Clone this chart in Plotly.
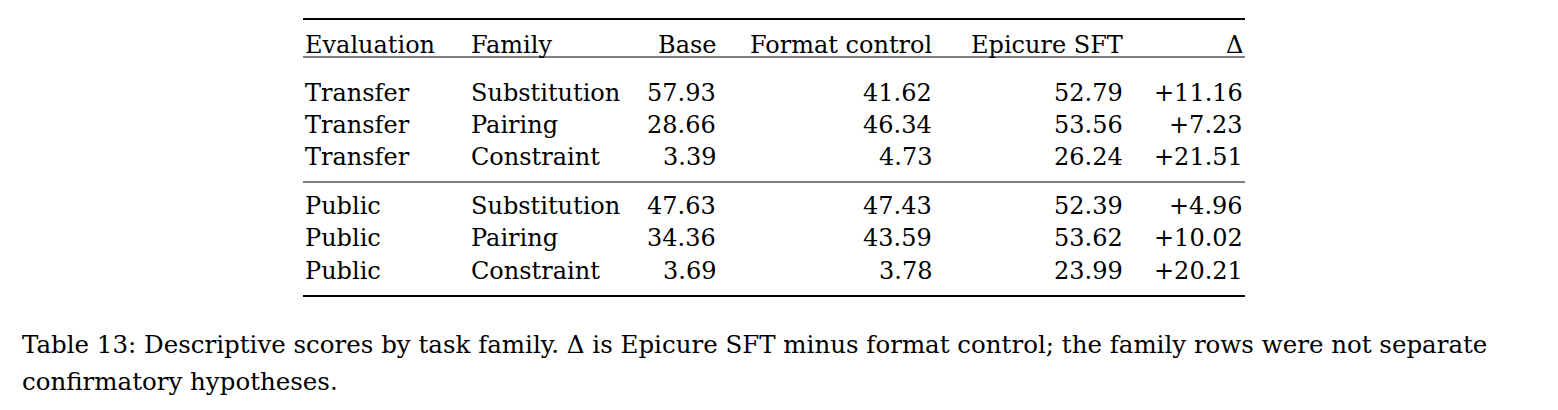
import plotly.graph_objects as go

headers = ["Evaluation", "Family", "Base", "Format control", "Epicure SFT", "Δ"]
evaluation = ["Transfer", "Transfer", "Transfer", "Public", "Public", "Public"]
family = ["Substitution", "Pairing", "Constraint", "Substitution", "Pairing", "Constraint"]
base = ["57.93", "28.66", "3.39", "47.63", "34.36", "3.69"]
format_control = ["41.62", "46.34", "4.73", "47.43", "43.59", "3.78"]
epicure_sft = ["52.79", "53.56", "26.24", "52.39", "53.62", "23.99"]
delta = ["+11.16", "+7.23", "+21.51", "+4.96", "+10.02", "+20.21"]
caption = ["Table 13: Descriptive scores by task family. Δ is Epicure SFT minus format control; the family rows were not separate",
           "confirmatory hypotheses."]

FONT = dict(family="DejaVu Serif, serif", size=24, color="black")
OFF = 8
col_x = [303, 469, 718, 934, 1125, 1245]
col_anchor = ["left", "left", "right", "right", "right", "right"]
row_y = [93, 125, 157, 206, 238, 271]

fig = go.Figure()
ann = []
for x, a, h in zip(col_x, col_anchor, headers):
    ann.append(dict(x=x - OFF, y=45 - OFF, text=h, xanchor=a, yanchor="middle", showarrow=False, font=FONT))
cols = [evaluation, family, base, format_control, epicure_sft, delta]
for i, y in enumerate(row_y):
    for x, a, c in zip(col_x, col_anchor, cols):
        ann.append(dict(x=x - OFF, y=y - OFF, text=c[i], xanchor=a, yanchor="middle", showarrow=False, font=FONT))
for j, line in enumerate(caption):
    ann.append(dict(x=20 - OFF, y=344 + 37 * j - OFF, text=line, xanchor="left", yanchor="middle",
                    showarrow=False, font=dict(FONT, size=24.5)))

shapes = []
for y, w in [(19, 2.2), (57, 1.2), (182, 1.2), (296, 2.2)]:
    shapes.append(dict(type="line", x0=303 - OFF, x1=1245 - OFF, y0=y - OFF, y1=y - OFF,
                       line=dict(color="black", width=w)))

fig.update_layout(width=1558, height=410, margin=dict(l=0, r=0, t=0, b=0),
                  paper_bgcolor="white", plot_bgcolor="white",
                  xaxis=dict(range=[0, 1558], visible=False, fixedrange=True),
                  yaxis=dict(range=[410, 0], visible=False, fixedrange=True),
                  annotations=ann, shapes=shapes, showlegend=False)
fig.write_html("out.html", config={"displayModeBar": False})
